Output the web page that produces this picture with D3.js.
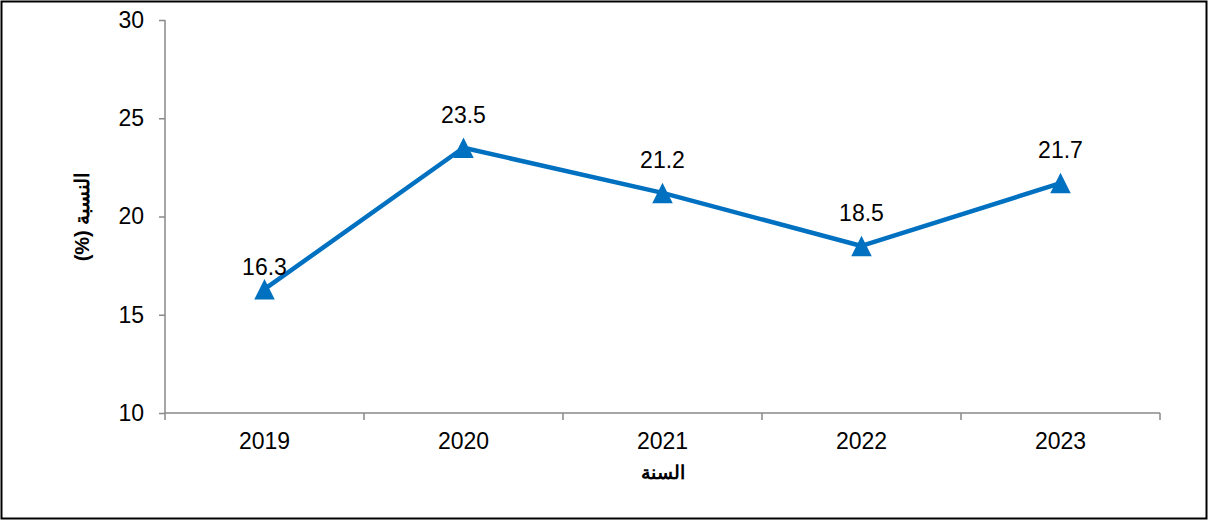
<!DOCTYPE html>
<html>
<head>
<meta charset="utf-8">
<script src="https://cdn.jsdelivr.net/npm/d3@7"></script>
<style>
  body { margin: 0; background: #fff; }
  svg { display: block; font-family: "Liberation Sans", Arial, sans-serif; }
  .axis path, .axis line { stroke: #898989; stroke-width: 1.5; }
  .axis text { font-size: 23px; fill: #000; font-family: "Liberation Sans", Arial, sans-serif; }
</style>
</head>
<body>
<div id="content"></div>
<script>
// chart data
var years = ["2019", "2020", "2021", "2022", "2023"];
var values = [16.3, 23.5, 21.2, 18.5, 21.7];
var yTicks = [10, 15, 20, 25, 30];
var yTitle = "النسبة (%)";
var xTitle = "السنة";

var W = 1208, H = 522;
var margin = {top: 20, right: 48, bottom: 109, left: 165},
  width = W - margin.left - margin.right,
  height = H - margin.top - margin.bottom;

var svg = d3.select("#content").append("svg")
  .attr("width", W)
  .attr("height", H);

// outer frame
svg.append("rect")
  .attr("x", 1.5).attr("y", 1.5)
  .attr("width", W - 3).attr("height", H - 5)
  .attr("fill", "none")
  .attr("stroke", "#000")
  .attr("stroke-width", 2);

var g = svg.append("g")
  .attr("transform", "translate(" + margin.left + "," + margin.top + ")");

var x = d3.scaleBand().domain(years).range([0, width]);
var y = d3.scaleLinear().domain([10, 30]).range([height, 0]);

// x axis (ticks between categories)
var xAxis = g.append("g")
  .attr("class", "axis")
  .attr("transform", "translate(0," + height + ")")
  .call(d3.axisBottom(x).tickSize(0).tickPadding(20));
xAxis.select(".domain").attr("d", "M0,0H" + width);
xAxis.selectAll(".tick text").attr("dy", "0.71em");
var bounds = years.map(function(d) { return x(d); }).concat([width]);
xAxis.selectAll(".sep").data(bounds).enter().append("line")
  .attr("x1", function(d) { return d; })
  .attr("x2", function(d) { return d; })
  .attr("y1", 0).attr("y2", 7);

// y axis
var yAxis = g.append("g")
  .attr("class", "axis")
  .call(d3.axisLeft(y).tickValues(yTicks).tickSize(6).tickPadding(15));
yAxis.select(".domain").attr("d", "M0," + height + "V0");

// line
var line = d3.line()
  .x(function(d, i) { return x(years[i]) + x.bandwidth() / 2; })
  .y(function(d) { return y(d); });

g.append("path")
  .datum(values)
  .attr("fill", "none")
  .attr("stroke", "#0070C0")
  .attr("stroke-width", 4.5)
  .attr("stroke-linejoin", "round")
  .attr("d", line);

// triangle markers (as wide as tall, like the office chart marker)
var boxTriangle = {
  draw: function(context, size) {
    var s = Math.sqrt(size) / 2;
    context.moveTo(0, -s);
    context.lineTo(s, s);
    context.lineTo(-s, s);
    context.closePath();
  }
};
var tri = d3.symbol().type(boxTriangle).size(420);
g.selectAll(".marker").data(values).enter().append("path")
  .attr("class", "marker")
  .attr("d", tri)
  .attr("fill", "#0070C0")
  .attr("transform", function(d, i) {
    return "translate(" + (x(years[i]) + x.bandwidth() / 2) + "," + y(d) + ")";
  });

// data labels (first one sits a bit lower, as in the original)
g.selectAll(".lbl").data(values).enter().append("text")
  .attr("class", "lbl")
  .attr("x", function(d, i) { return x(years[i]) + x.bandwidth() / 2; })
  .attr("y", function(d, i) { return y(d) - (i === 0 ? 14 : 25); })
  .attr("text-anchor", "middle")
  .attr("font-size", 23)
  .text(function(d) { return d.toFixed(1); });

// axis titles
svg.append("text")
  .attr("transform", "translate(89," + (margin.top + height / 2) + ") rotate(-90)")
  .attr("text-anchor", "middle")
  .attr("font-size", 20)
  .attr("font-weight", "bold")
  .attr("direction", "rtl")
  .text(yTitle);

svg.append("text")
  .attr("x", margin.left + width / 2)
  .attr("y", 479)
  .attr("text-anchor", "middle")
  .attr("font-size", 19)
  .attr("font-weight", "bold")
  .attr("direction", "rtl")
  .text(xTitle);
</script>
</body>
</html>
